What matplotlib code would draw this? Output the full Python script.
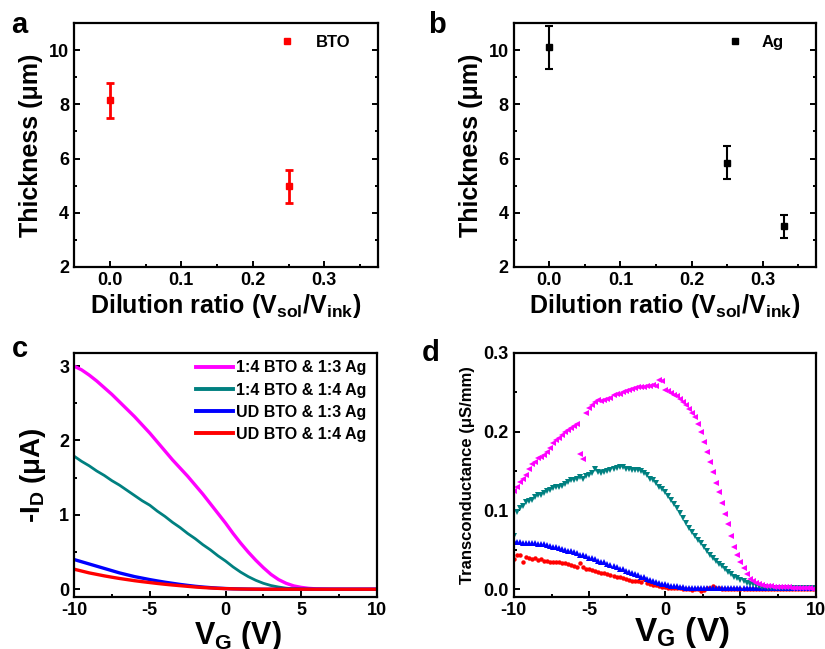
import numpy as np
import matplotlib
matplotlib.use("Agg")
import matplotlib.pyplot as plt
from matplotlib.ticker import MultipleLocator
from matplotlib.lines import Line2D

plt.rcParams['font.family'] = ['Liberation Sans', 'DejaVu Sans']
plt.rcParams['font.weight'] = 'bold'
plt.rcParams['axes.labelweight'] = 'bold'
plt.rcParams['axes.unicode_minus'] = False
plt.rcParams['mathtext.fontset'] = 'custom'
plt.rcParams['mathtext.rm'] = 'Liberation Sans:bold'
plt.rcParams['mathtext.it'] = 'Liberation Sans:bold'
plt.rcParams['mathtext.bf'] = 'Liberation Sans:bold'
plt.rcParams['mathtext.default'] = 'rm'

# ---- panel a / b : thickness vs dilution ratio ----
bto_ratio = [0.0, 0.25]
bto_thick = [8.15, 4.97]
bto_err = [0.64, 0.6]

ag_ratio = [0.0, 0.25, 0.33]
ag_thick = [10.1, 5.85, 3.5]
ag_err = [0.8, 0.6, 0.42]

# ---- panel c : transfer curves (-I_D vs V_G) ----
vg_c = [-10, -9.5, -9, -8.5, -8, -7.5, -7, -6.5, -6, -5.5, -5, -4.5, -4, -3.5, -3,
        -2.5, -2, -1.5, -1, -0.5, 0, 0.5, 1, 1.5, 2, 2.5, 3, 3.5, 4, 4.5, 5, 5.5, 6,
        7, 8, 9, 10]
id_bto14_ag13 = [3.00, 2.95, 2.88, 2.80, 2.71, 2.62, 2.52, 2.42, 2.32, 2.21, 2.10,
                 1.98, 1.86, 1.74, 1.63, 1.52, 1.40, 1.28, 1.15, 1.02, 0.89, 0.75,
                 0.62, 0.50, 0.39, 0.29, 0.20, 0.13, 0.08, 0.045, 0.025, 0.012, 0.005,
                 0.001, 0.0, 0.0, 0.0]
id_bto14_ag14 = [1.79, 1.72, 1.66, 1.59, 1.53, 1.46, 1.40, 1.33, 1.26, 1.19, 1.13,
                 1.05, 0.98, 0.90, 0.83, 0.75, 0.68, 0.60, 0.53, 0.45, 0.38, 0.30,
                 0.23, 0.17, 0.12, 0.08, 0.05, 0.03, 0.015, 0.007, 0.003, 0.001, 0.0,
                 0.0, 0.0, 0.0, 0.0]
id_ud_ag13 = [0.40, 0.37, 0.34, 0.31, 0.28, 0.25, 0.22, 0.195, 0.17, 0.15, 0.13,
              0.112, 0.095, 0.08, 0.065, 0.052, 0.04, 0.03, 0.022, 0.015, 0.01, 0.006,
              0.004, 0.002, 0.001, 0.0, 0.0, 0.0, 0.0, 0.0, 0.0, 0.0, 0.0,
              0.0, 0.0, 0.0, 0.0]
id_ud_ag14 = [0.27, 0.245, 0.22, 0.20, 0.18, 0.162, 0.145, 0.13, 0.115, 0.102, 0.09,
              0.078, 0.067, 0.057, 0.048, 0.039, 0.03, 0.023, 0.017, 0.012, 0.008, 0.005,
              0.003, 0.002, 0.001, 0.0, 0.0, 0.0, 0.0, 0.0, 0.0, 0.0, 0.0,
              0.0, 0.0, 0.0, 0.0]

labels_c = ["1:4 BTO & 1:3 Ag", "1:4 BTO & 1:4 Ag", "UD BTO & 1:3 Ag", "UD BTO & 1:4 Ag"]

# ---- panel d : transconductance (gate sweep in 0.2 V steps) ----
vg_d = np.round(np.arange(-10, 10.001, 0.2), 1)
gm_bto14_ag13 = [
    0.125, 0.130, 0.136, 0.140, 0.145, 0.152, 0.159, 0.162, 0.166, 0.168,
    0.170, 0.174, 0.179, 0.185, 0.189, 0.192, 0.195, 0.199, 0.202, 0.205,
    0.207, 0.209, 0.171, 0.165, 0.224, 0.230, 0.234, 0.238, 0.240, 0.239,
    0.240, 0.241, 0.243, 0.246, 0.248, 0.248, 0.250, 0.251, 0.253, 0.254,
    0.255, 0.256, 0.256, 0.257, 0.258, 0.258, 0.259, 0.258, 0.266, 0.264,
    0.253, 0.251, 0.249, 0.247, 0.245, 0.241, 0.238, 0.234, 0.229, 0.224,
    0.218, 0.210, 0.199, 0.187, 0.174, 0.162, 0.149, 0.135, 0.123, 0.109,
    0.096, 0.083, 0.067, 0.054, 0.044, 0.034, 0.027, 0.019, 0.013, 0.010,
    0.008, 0.006, 0.005, 0.004, 0.004, 0.004, 0.003, 0.003, 0.003, 0.003,
    0.003, 0.003, 0.002, 0.002, 0.002, 0.002, 0.002, 0.001, 0.001, 0.000,
    -0.001]
gm_bto14_ag14 = [
    0.068, 0.098, 0.103, 0.106, 0.110, 0.112, 0.113, 0.117, 0.119, 0.119,
    0.122, 0.124, 0.126, 0.129, 0.130, 0.130, 0.131, 0.133, 0.136, 0.138,
    0.139, 0.140, 0.142, 0.140, 0.144, 0.145, 0.148, 0.153, 0.149, 0.147,
    0.149, 0.150, 0.151, 0.152, 0.154, 0.155, 0.155, 0.153, 0.152, 0.151,
    0.151, 0.151, 0.150, 0.148, 0.145, 0.140, 0.138, 0.135, 0.130, 0.127,
    0.123, 0.118, 0.113, 0.108, 0.103, 0.097, 0.090, 0.084, 0.078, 0.073,
    0.068, 0.063, 0.058, 0.053, 0.048, 0.044, 0.040, 0.036, 0.032, 0.029,
    0.025, 0.022, 0.019, 0.016, 0.014, 0.012, 0.010, 0.008, 0.007, 0.006,
    0.005, 0.004, 0.003, 0.003, 0.002, 0.002, 0.002, 0.002, 0.002, 0.002,
    0.002, 0.002, 0.002, 0.002, 0.002, 0.002, 0.002, 0.002, 0.002, 0.002,
    0.002]
gm_ud_ag13 = [
    0.061, 0.060, 0.060, 0.059, 0.059, 0.059, 0.058, 0.058, 0.057, 0.057,
    0.057, 0.056, 0.055, 0.054, 0.053, 0.052, 0.051, 0.050, 0.049, 0.048,
    0.047, 0.046, 0.044, 0.043, 0.042, 0.040, 0.039, 0.038, 0.036, 0.035,
    0.034, 0.032, 0.031, 0.029, 0.028, 0.026, 0.025, 0.023, 0.022, 0.020,
    0.019, 0.018, 0.016, 0.015, 0.013, 0.012, 0.011, 0.009, 0.008, 0.007,
    0.006, 0.005, 0.0045, 0.004, 0.0035, 0.003, 0.0025, 0.002, 0.002, 0.0015,
    0.0015, 0.0015, 0.0015, 0.0015, 0.0015, 0.0015, 0.0015, 0.0015, 0.0015, 0.0015,
    0.0015, 0.0015, 0.0015, 0.0015, 0.0015, 0.0015, 0.0015, 0.0015, 0.0015, 0.0015,
    0.0015, 0.0015, 0.0015, 0.0015, 0.0015, 0.0015, 0.0015, 0.0015, 0.0015, 0.0015,
    0.0015, 0.0015, 0.0015, 0.0015, 0.0015, 0.0015, 0.0015, 0.0015, 0.0015, 0.0015,
    0.0015]
gm_ud_ag14 = [
    0.038, 0.043, 0.044, 0.034, 0.041, 0.040, 0.038, 0.039, 0.037, 0.038,
    0.036, 0.036, 0.035, 0.035, 0.034, 0.034, 0.033, 0.033, 0.032, 0.031,
    0.029, 0.028, 0.033, 0.028, 0.026, 0.025, 0.024, 0.023, 0.022, 0.021,
    0.020, 0.019, 0.018, 0.017, 0.016, 0.015, 0.014, 0.013, 0.012, 0.011,
    0.011, 0.010, 0.009, 0.013, 0.008, 0.006, 0.005, 0.005, 0.004, 0.003,
    0.003, 0.002, 0.002, 0.001, 0.001, 0.001, 0.000, 0.000, 0.000, -0.001,
    0.000, 0.000, -0.002, -0.001, 0.001, 0.002, 0.004, 0.002, 0.001, 0.000,
    0.000, 0.000, 0.000, 0.000, 0.000, 0.000, 0.000, 0.000, 0.000, 0.000,
    0.000, 0.000, 0.000, 0.000, 0.000, 0.000, 0.000, 0.000, 0.000, 0.000,
    0.000, 0.000, 0.000, 0.000, 0.000, 0.000, 0.000, 0.000, 0.000, 0.000,
    0.000]

MAG = '#FF00FF'
TEAL = '#008080'
BLUE = '#0000FF'
RED = '#FF0000'

fig = plt.figure(figsize=(8.25, 6.49), dpi=100)
ax_a = fig.add_axes([0.0897, 0.5886, 0.3685, 0.376])
ax_b = fig.add_axes([0.6227, 0.5886, 0.3665, 0.376])
ax_c = fig.add_axes([0.0897, 0.0806, 0.3673, 0.3759])
ax_d = fig.add_axes([0.6227, 0.0806, 0.3665, 0.3759])


def style(ax, right=False):
    for s in ax.spines.values():
        s.set_linewidth(1.6)
    ax.tick_params(which='both', direction='in', width=1.4, labelsize=13,
                   right=right, top=False)
    ax.tick_params(which='major', length=4.5)
    ax.tick_params(which='minor', length=2.5)
    for t in ax.get_xticklabels() + ax.get_yticklabels():
        t.set_fontweight('bold')


xlab_ratio = r'Dilution ratio (V$_{sol}$/V$_{ink}$)'

# a
ax_a.errorbar(bto_ratio, bto_thick, yerr=bto_err, fmt='s', color=RED, ms=4,
              ecolor=RED, elinewidth=2, capsize=3, capthick=2)
ax_a.set_xlim(-0.05, 0.375)
ax_a.set_ylim(2, 11)
ax_a.xaxis.set_major_locator(MultipleLocator(0.1))
ax_a.xaxis.set_minor_locator(MultipleLocator(0.05))
ax_a.yaxis.set_major_locator(MultipleLocator(2))
ax_a.yaxis.set_minor_locator(MultipleLocator(1))
ax_a.set_xlabel(xlab_ratio, fontsize=18, labelpad=2)
ax_a.set_ylabel('Thickness (μm)', fontsize=18, labelpad=4)
style(ax_a, right=True)
ax_a.legend([Line2D([], [], ls='none', marker='s', color=RED, ms=4)], ['BTO'],
            loc='upper right', bbox_to_anchor=(0.93, 0.98), borderaxespad=0,
            frameon=False, fontsize=12, handlelength=1.2, handletextpad=1.1)

# b
ax_b.errorbar(ag_ratio, ag_thick, yerr=ag_err, fmt='s', color='black', ms=4,
              ecolor='black', elinewidth=1.5, capsize=3, capthick=1.5)
ax_b.set_xlim(-0.05, 0.375)
ax_b.set_ylim(2, 11)
ax_b.xaxis.set_major_locator(MultipleLocator(0.1))
ax_b.xaxis.set_minor_locator(MultipleLocator(0.05))
ax_b.yaxis.set_major_locator(MultipleLocator(2))
ax_b.yaxis.set_minor_locator(MultipleLocator(1))
ax_b.set_xlabel(xlab_ratio, fontsize=18, labelpad=2)
ax_b.set_ylabel('Thickness (μm)', fontsize=18, labelpad=4)
style(ax_b, right=True)
ax_b.legend([Line2D([], [], ls='none', marker='s', color='black', ms=4)], ['Ag'],
            loc='upper right', bbox_to_anchor=(0.915, 0.98), borderaxespad=0,
            frameon=False, fontsize=12, handlelength=1.2, handletextpad=1.0)

# c
for yv, col, lab, lw in zip([id_bto14_ag13, id_bto14_ag14, id_ud_ag13, id_ud_ag14],
                            [MAG, TEAL, BLUE, RED], labels_c, [2.4, 2.0, 2.4, 2.4]):
    ax_c.plot(vg_c, yv, color=col, lw=lw, label=lab)
ax_c.set_xlim(-10, 10)
ax_c.set_ylim(-0.1, 3.18)
ax_c.xaxis.set_major_locator(MultipleLocator(5))
ax_c.xaxis.set_minor_locator(MultipleLocator(2.5))
ax_c.yaxis.set_major_locator(MultipleLocator(1))
ax_c.yaxis.set_minor_locator(MultipleLocator(0.5))
ax_c.set_xlabel(r'V$_G$ (V)', fontsize=22, labelpad=0)
ax_c.xaxis.set_label_coords(0.54, -0.09, transform=ax_c.transAxes)
ax_c.xaxis.label.set_va('top')
ax_c.set_ylabel(r'-I$_D$ (μA)', fontsize=20, labelpad=8)
style(ax_c)
ax_c.legend(loc='upper right', bbox_to_anchor=(0.985, 0.995), borderaxespad=0,
            frameon=False, fontsize=11.5, handlelength=2.3, handletextpad=0.2,
            labelspacing=0.45)
for ln in ax_c.get_legend().get_lines():
    ln.set_linewidth(2.8)

# d
ax_d.plot(vg_d, gm_ud_ag14, 'o', color=RED, ms=3.2, mew=0)
ax_d.plot(vg_d, gm_ud_ag13, '^', color=BLUE, ms=4, mew=0)
ax_d.plot(vg_d, gm_bto14_ag14, 'v', color=TEAL, ms=5, mew=0)
ax_d.plot(vg_d, gm_bto14_ag13, '<', color=MAG, ms=5, mew=0)
ax_d.set_xlim(-10, 10)
ax_d.set_ylim(-0.0095, 0.3)
ax_d.xaxis.set_major_locator(MultipleLocator(5))
ax_d.xaxis.set_minor_locator(MultipleLocator(2.5))
ax_d.yaxis.set_major_locator(MultipleLocator(0.1))
ax_d.yaxis.set_minor_locator(MultipleLocator(0.05))
ax_d.set_xlabel(r'V$_G$ (V)', fontsize=24)
ax_d.xaxis.set_label_coords(0.555, -0.075, transform=ax_d.transAxes)
ax_d.xaxis.label.set_va('top')
ax_d.set_ylabel('Transconductance (μS/mm)', fontsize=12, labelpad=6)
style(ax_d)

fig.text(0.014, 0.949, 'a', fontsize=21, fontweight='bold')
fig.text(0.519, 0.949, 'b', fontsize=21, fontweight='bold')
fig.text(0.014, 0.450, 'c', fontsize=21, fontweight='bold')
fig.text(0.511, 0.444, 'd', fontsize=21, fontweight='bold')

fig.savefig('out.png', dpi=100)
